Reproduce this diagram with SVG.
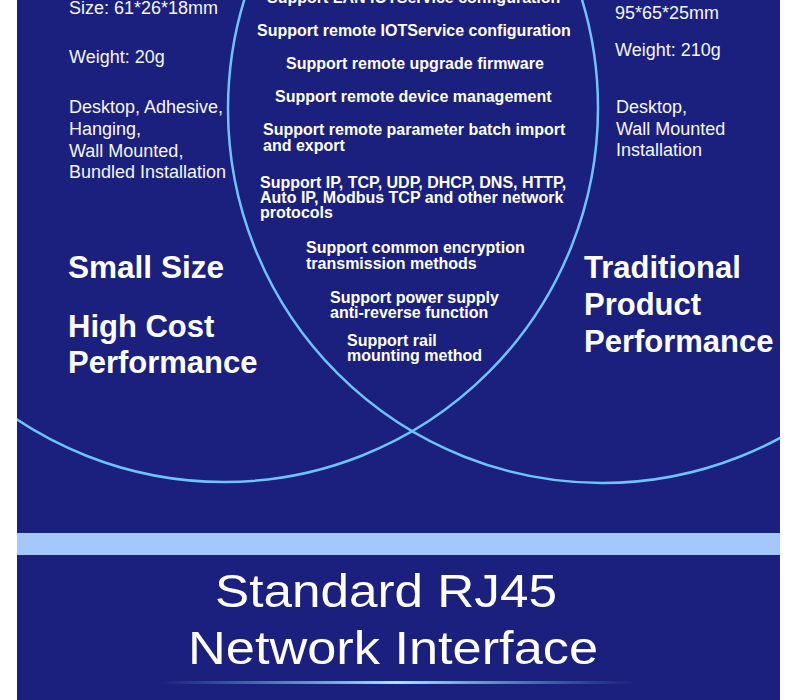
<svg xmlns="http://www.w3.org/2000/svg" width="800" height="700" viewBox="0 0 800 700">
  <style>
    .reg { font-family: "Liberation Sans", Arial, sans-serif; font-size: 18px; fill: #f4f6ff; }
    .mid { font-family: "Liberation Sans", Arial, sans-serif; font-size: 16px; font-weight: bold; fill: #ffffff; }
    .big { font-family: "Liberation Sans", Arial, sans-serif; font-size: 31px; font-weight: bold; fill: #ffffff; }
    .title { font-family: "Liberation Sans", Arial, sans-serif; font-size: 47px; fill: #ffffff; text-anchor: middle; }
    .ring { fill: none; stroke: #6cc4fa; stroke-width: 2.5; }
  </style>
  <defs>
    <clipPath id="topClip"><rect x="17" y="0" width="763" height="533"/></clipPath>
    <linearGradient id="glow" x1="0" y1="0" x2="1" y2="0">
      <stop offset="0" stop-color="#6cc4fa" stop-opacity="0"/>
      <stop offset="0.5" stop-color="#aee4ff" stop-opacity="1"/>
      <stop offset="1" stop-color="#6cc4fa" stop-opacity="0"/>
    </linearGradient>
  </defs>

  <rect x="0" y="0" width="800" height="700" fill="#ffffff"/>
  <rect x="17" y="0" width="763" height="533" fill="#1b1f7d"/>
  <rect x="17" y="533" width="763" height="22" fill="#a4c8fc"/>
  <rect x="17" y="555" width="763" height="145" fill="#1b1f7d"/>

  <g id="connectors" clip-path="url(#topClip)">
    <circle class="ring" cx="224" cy="108" r="374"/>
    <circle class="ring" cx="602" cy="109" r="374"/>
  </g>

  <g id="left-set">
    <text class="reg" x="69" y="14">Size: 61*26*18mm</text>
    <text class="reg" x="69" y="63">Weight: 20g</text>
    <text class="reg" x="69" y="113">Desktop, Adhesive,</text>
    <text class="reg" x="69" y="135">Hanging,</text>
    <text class="reg" x="69" y="157">Wall Mounted,</text>
    <text class="reg" x="69" y="178">Bundled Installation</text>
    <text class="big" x="68" y="278" textLength="156" lengthAdjust="spacingAndGlyphs">Small Size</text>
    <text class="big" x="68" y="337">High Cost</text>
    <text class="big" x="68" y="373">Performance</text>
  </g>

  <g id="intersection">
    <text class="mid" x="267" y="3">Support LAN IOTService configuration</text>
    <text class="mid" x="257" y="36">Support remote IOTService configuration</text>
    <text class="mid" x="286" y="69">Support remote upgrade firmware</text>
    <text class="mid" x="275" y="102">Support remote device management</text>
    <text class="mid" x="263" y="135">Support remote parameter batch import</text>
    <text class="mid" x="263" y="151">and export</text>
    <text class="mid" x="260" y="188">Support IP, TCP, UDP, DHCP, DNS, HTTP,</text>
    <text class="mid" x="260" y="203">Auto IP, Modbus TCP and other network</text>
    <text class="mid" x="260" y="218">protocols</text>
    <text class="mid" x="306" y="253">Support common encryption</text>
    <text class="mid" x="306" y="269">transmission methods</text>
    <text class="mid" x="330" y="303">Support power supply</text>
    <text class="mid" x="330" y="318">anti-reverse function</text>
    <text class="mid" x="347" y="346">Support rail</text>
    <text class="mid" x="347" y="361">mounting method</text>
  </g>

  <g id="right-set">
    <text class="reg" x="615" y="19">95*65*25mm</text>
    <text class="reg" x="615" y="56">Weight: 210g</text>
    <text class="reg" x="616" y="113">Desktop,</text>
    <text class="reg" x="616" y="135">Wall Mounted</text>
    <text class="reg" x="616" y="156">Installation</text>
    <text class="big" x="584" y="278">Traditional</text>
    <text class="big" x="584" y="315">Product</text>
    <text class="big" x="584" y="352">Performance</text>
  </g>

  <g id="title">
    <text class="title" x="386" y="607" textLength="342" lengthAdjust="spacingAndGlyphs">Standard RJ45</text>
    <text class="title" x="393" y="664" textLength="410" lengthAdjust="spacingAndGlyphs">Network Interface</text>
    <rect x="158" y="681" width="478" height="3" fill="url(#glow)"/>
  </g>
</svg>
